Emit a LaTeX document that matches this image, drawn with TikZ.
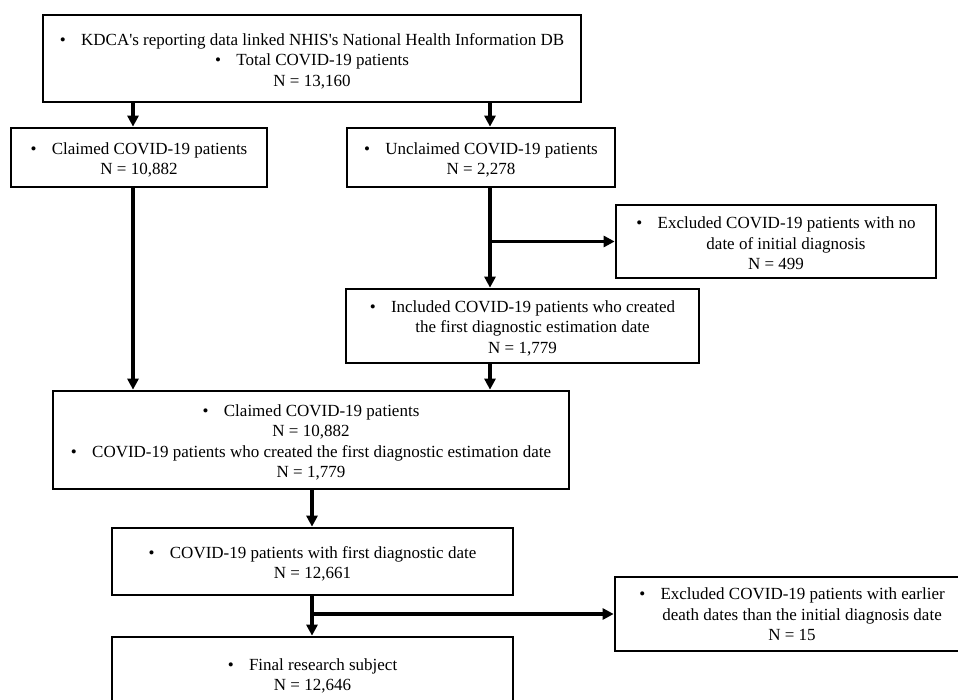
\documentclass[tikz,border=0pt]{standalone}
\usepackage{fontspec}
\setmainfont{Liberation Serif}[Ligatures=TeXOff]
\usetikzlibrary{arrows.meta}
\newcommand{\bul}{\textbullet\hspace{0.9em}}
\begin{document}
\begin{tikzpicture}[x=1pt,y=-1pt,
  box/.style={draw=black,line width=2.7pt,rectangle,inner sep=0pt},
  txt/.style={inner sep=0pt,align=center,font=\fontsize{17}{20.5}\selectfont},
  arr/.style={line width=3.2pt,-{Triangle[length=11pt,width=11pt]}}]
\clip (0,0) rectangle (958,700);
\useasboundingbox (0,0) rectangle (958,700);
\fill[white] (0,0) rectangle (958,700);

\node[box,minimum width=538pt,minimum height=87pt] (b1) at (312,58.5) {};
\node[txt] (b1t) at ([yshift=-2.5pt]b1.center)
  {\bul KDCA's reporting data linked NHIS's National Health Information DB\\
   \bul Total COVID-19 patients\\ N = 13,160};
\node[box,minimum width=256pt,minimum height=59pt] (cl) at (139,157.5) {};
\node[txt] (clt) at ([yshift=-2.5pt]cl.center)
  {\bul Claimed COVID-19 patients\\ N = 10,882};
\node[box,minimum width=268pt,minimum height=59pt] (uc) at (481,157.5) {};
\node[txt] (uct) at ([yshift=-2.5pt]uc.center)
  {\bul Unclaimed COVID-19 patients\\ N = 2,278};
\node[box,minimum width=320pt,minimum height=73pt] (ex1) at (776,241.5) {};
\node[txt] (ex1t) at ([yshift=-2pt]ex1.center)
  {\bul Excluded COVID-19 patients with no\\ \hspace*{20pt}date of initial diagnosis\\ N = 499};
\node[box,minimum width=353pt,minimum height=74pt] (inc) at (522.5,326) {};
\node[txt] (inct) at ([yshift=-2pt]inc.center)
  {\bul Included COVID-19 patients who created\\ \hspace*{20pt}the first diagnostic estimation date\\ N = 1,779};
\node[box,minimum width=516pt,minimum height=98pt] (cb) at (311,440) {};
\node[txt] (cbt) at ([yshift=-2.5pt]cb.center)
  {\bul Claimed COVID-19 patients\\ N = 10,882\\
   \bul COVID-19 patients who created the first diagnostic estimation date\\ N = 1,779};
\node[box,minimum width=401pt,minimum height=67pt] (fd) at (312.5,561.5) {};
\node[txt] (fdt) at ([yshift=-2.5pt]fd.center)
  {\bul COVID-19 patients with first diagnostic date\\ N = 12,661};
\node[box,minimum width=354pt,minimum height=74pt] (ex2) at (792,614) {};
\node[txt] (ex2t) at ([yshift=-0.5pt]ex2.center)
  {\bul Excluded COVID-19 patients with earlier\\ \hspace*{20pt}death dates than the initial diagnosis date\\ N = 15};
\node[box,minimum width=401pt,minimum height=74pt] (fin) at (312.5,674) {};
\node[txt] (fint) at ([yshift=-2pt]fin.center)
  {\bul Final research subject\\ N = 12,646};

\coordinate (lx) at (133,0);
\coordinate (rx) at (490,0);
\coordinate (mx) at (312,0);
\coordinate (j1) at (490,241.5);
\coordinate (j2) at (312,614);

\draw[arr] (b1.south -| lx) -- (cl.north -| lx);
\draw[arr] (b1.south -| rx) -- (uc.north -| rx);
\draw[arr] (cl.south -| lx) -- (cb.north -| lx);
\draw[arr] (uc.south -| rx) -- (inc.north -| rx);
\draw[arr] (j1) -- (ex1.west);
\draw[arr] (inc.south -| rx) -- (cb.north -| rx);
\draw[arr] (cb.south -| mx) -- (fd.north -| mx);
\draw[arr] (fd.south -| mx) -- (fin.north -| mx);
\draw[arr] (j2) -- (ex2.west);
\end{tikzpicture}
\end{document}
